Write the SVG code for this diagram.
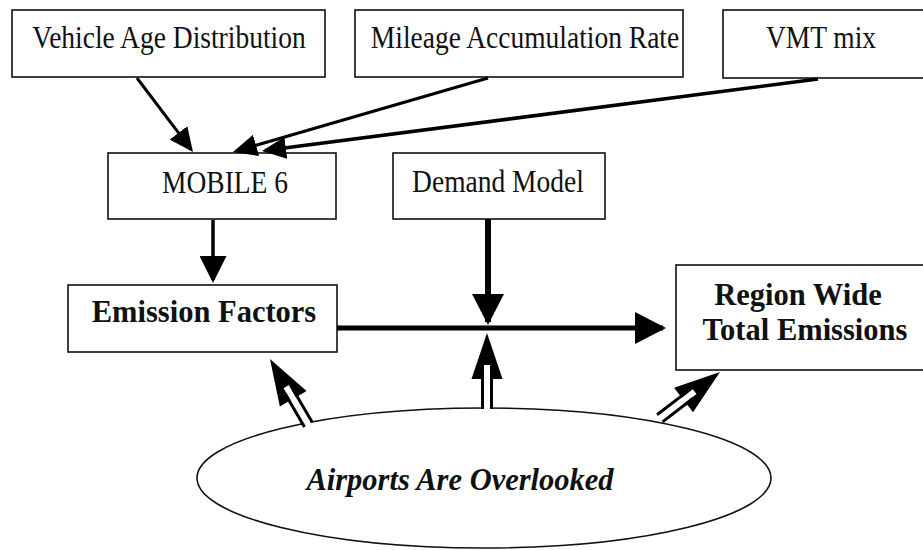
<svg xmlns="http://www.w3.org/2000/svg" width="923" height="550" viewBox="0 0 923 550">
<style>
.box{fill:#fff;stroke:#111;stroke-width:1.6}
.t{font-family:"Liberation Serif","Times New Roman",serif;font-size:27.5px;fill:#111;text-anchor:middle}
.b{font-family:"Liberation Serif","Times New Roman",serif;font-size:30.5px;font-weight:bold;fill:#111;text-anchor:middle}
.bi{font-family:"Liberation Serif","Times New Roman",serif;font-size:30.5px;font-weight:bold;font-style:italic;fill:#111;text-anchor:middle}
.ln{stroke:#000;fill:none}
</style>
<defs>
<marker id="mA" markerUnits="userSpaceOnUse" markerWidth="24" markerHeight="22" refX="21" refY="11" orient="auto"><path d="M0,0 L24,11 L0,22 z" fill="#000"/></marker>
<marker id="mB" markerUnits="userSpaceOnUse" markerWidth="27" markerHeight="27" refX="24" refY="13.5" orient="auto"><path d="M0,0 L27,13.5 L0,27 z" fill="#000"/></marker>
<marker id="mC" markerUnits="userSpaceOnUse" markerWidth="31" markerHeight="32" refX="28" refY="16" orient="auto"><path d="M0,0 L31,16 L0,32 z" fill="#000"/></marker>
<g id="dbl">
<polygon points="0,0 15.5,46 -15.5,46" fill="#000"/>
<rect x="-3" y="32" width="6" height="44" fill="#fff"/>
<line x1="-4.5" y1="38" x2="-4.5" y2="76" stroke="#000" stroke-width="3"/>
<line x1="4.5" y1="38" x2="4.5" y2="76" stroke="#000" stroke-width="3"/>
</g>
</defs>
<rect width="923" height="550" fill="#fff"/>

<g id="vehicle-age">
<rect class="box" x="12" y="10" width="313" height="67"/>
<text class="t" transform="translate(169,48) scale(1,1.15)">Vehicle Age Distribution</text>
</g>
<g id="mileage">
<rect class="box" x="355" y="10" width="328" height="67"/>
<text class="t" transform="translate(525,48) scale(1,1.15)">Mileage Accumulation Rate</text>
</g>
<g id="vmt">
<rect class="box" x="723" y="10" width="215" height="68"/>
<text class="t" transform="translate(821,48) scale(1,1.15)">VMT mix</text>
</g>
<g id="mobile6">
<rect class="box" x="108" y="153" width="228" height="66"/>
<text class="t" transform="translate(225,193) scale(1,1.15)">MOBILE 6</text>
</g>
<g id="demand">
<rect class="box" x="393" y="153" width="212" height="66"/>
<text class="t" transform="translate(498,192) scale(1,1.15)">Demand Model</text>
</g>
<g id="emission-factors">
<rect class="box" x="68" y="285" width="269" height="67"/>
<text class="b" x="204" y="322">Emission Factors</text>
</g>
<g id="region-wide">
<rect class="box" x="676" y="265" width="262" height="105"/>
<text class="b" x="798" y="305">Region Wide</text>
<text class="b" x="805" y="340">Total Emissions</text>
</g>
<g id="airports">
<ellipse cx="484" cy="478" rx="287" ry="70" fill="#fff" stroke="#111" stroke-width="1.6"/>
<text class="bi" x="460" y="490">Airports Are Overlooked</text>
</g>

<g id="connectors">
<line class="ln" x1="137" y1="78" x2="191.2" y2="149.6" stroke-width="3" marker-end="url(#mA)"/>
<line class="ln" x1="488" y1="78" x2="235.9" y2="151.2" stroke-width="3.2" marker-end="url(#mA)"/>
<line class="ln" x1="818" y1="79" x2="265" y2="150.6" stroke-width="3.5" marker-end="url(#mA)"/>
<line class="ln" x1="213" y1="220" x2="213" y2="280" stroke-width="3.5" marker-end="url(#mB)"/>
<line class="ln" x1="488" y1="219" x2="488" y2="322" stroke-width="6" marker-end="url(#mC)"/>
<line class="ln" x1="337" y1="328" x2="663" y2="328" stroke-width="5" marker-end="url(#mC)"/>
<use href="#dbl" transform="translate(487,333)"/>
<use href="#dbl" transform="translate(270,359) rotate(-30.3)"/>
<use href="#dbl" transform="translate(720,372) rotate(52.4)"/>
</g>
</svg>
